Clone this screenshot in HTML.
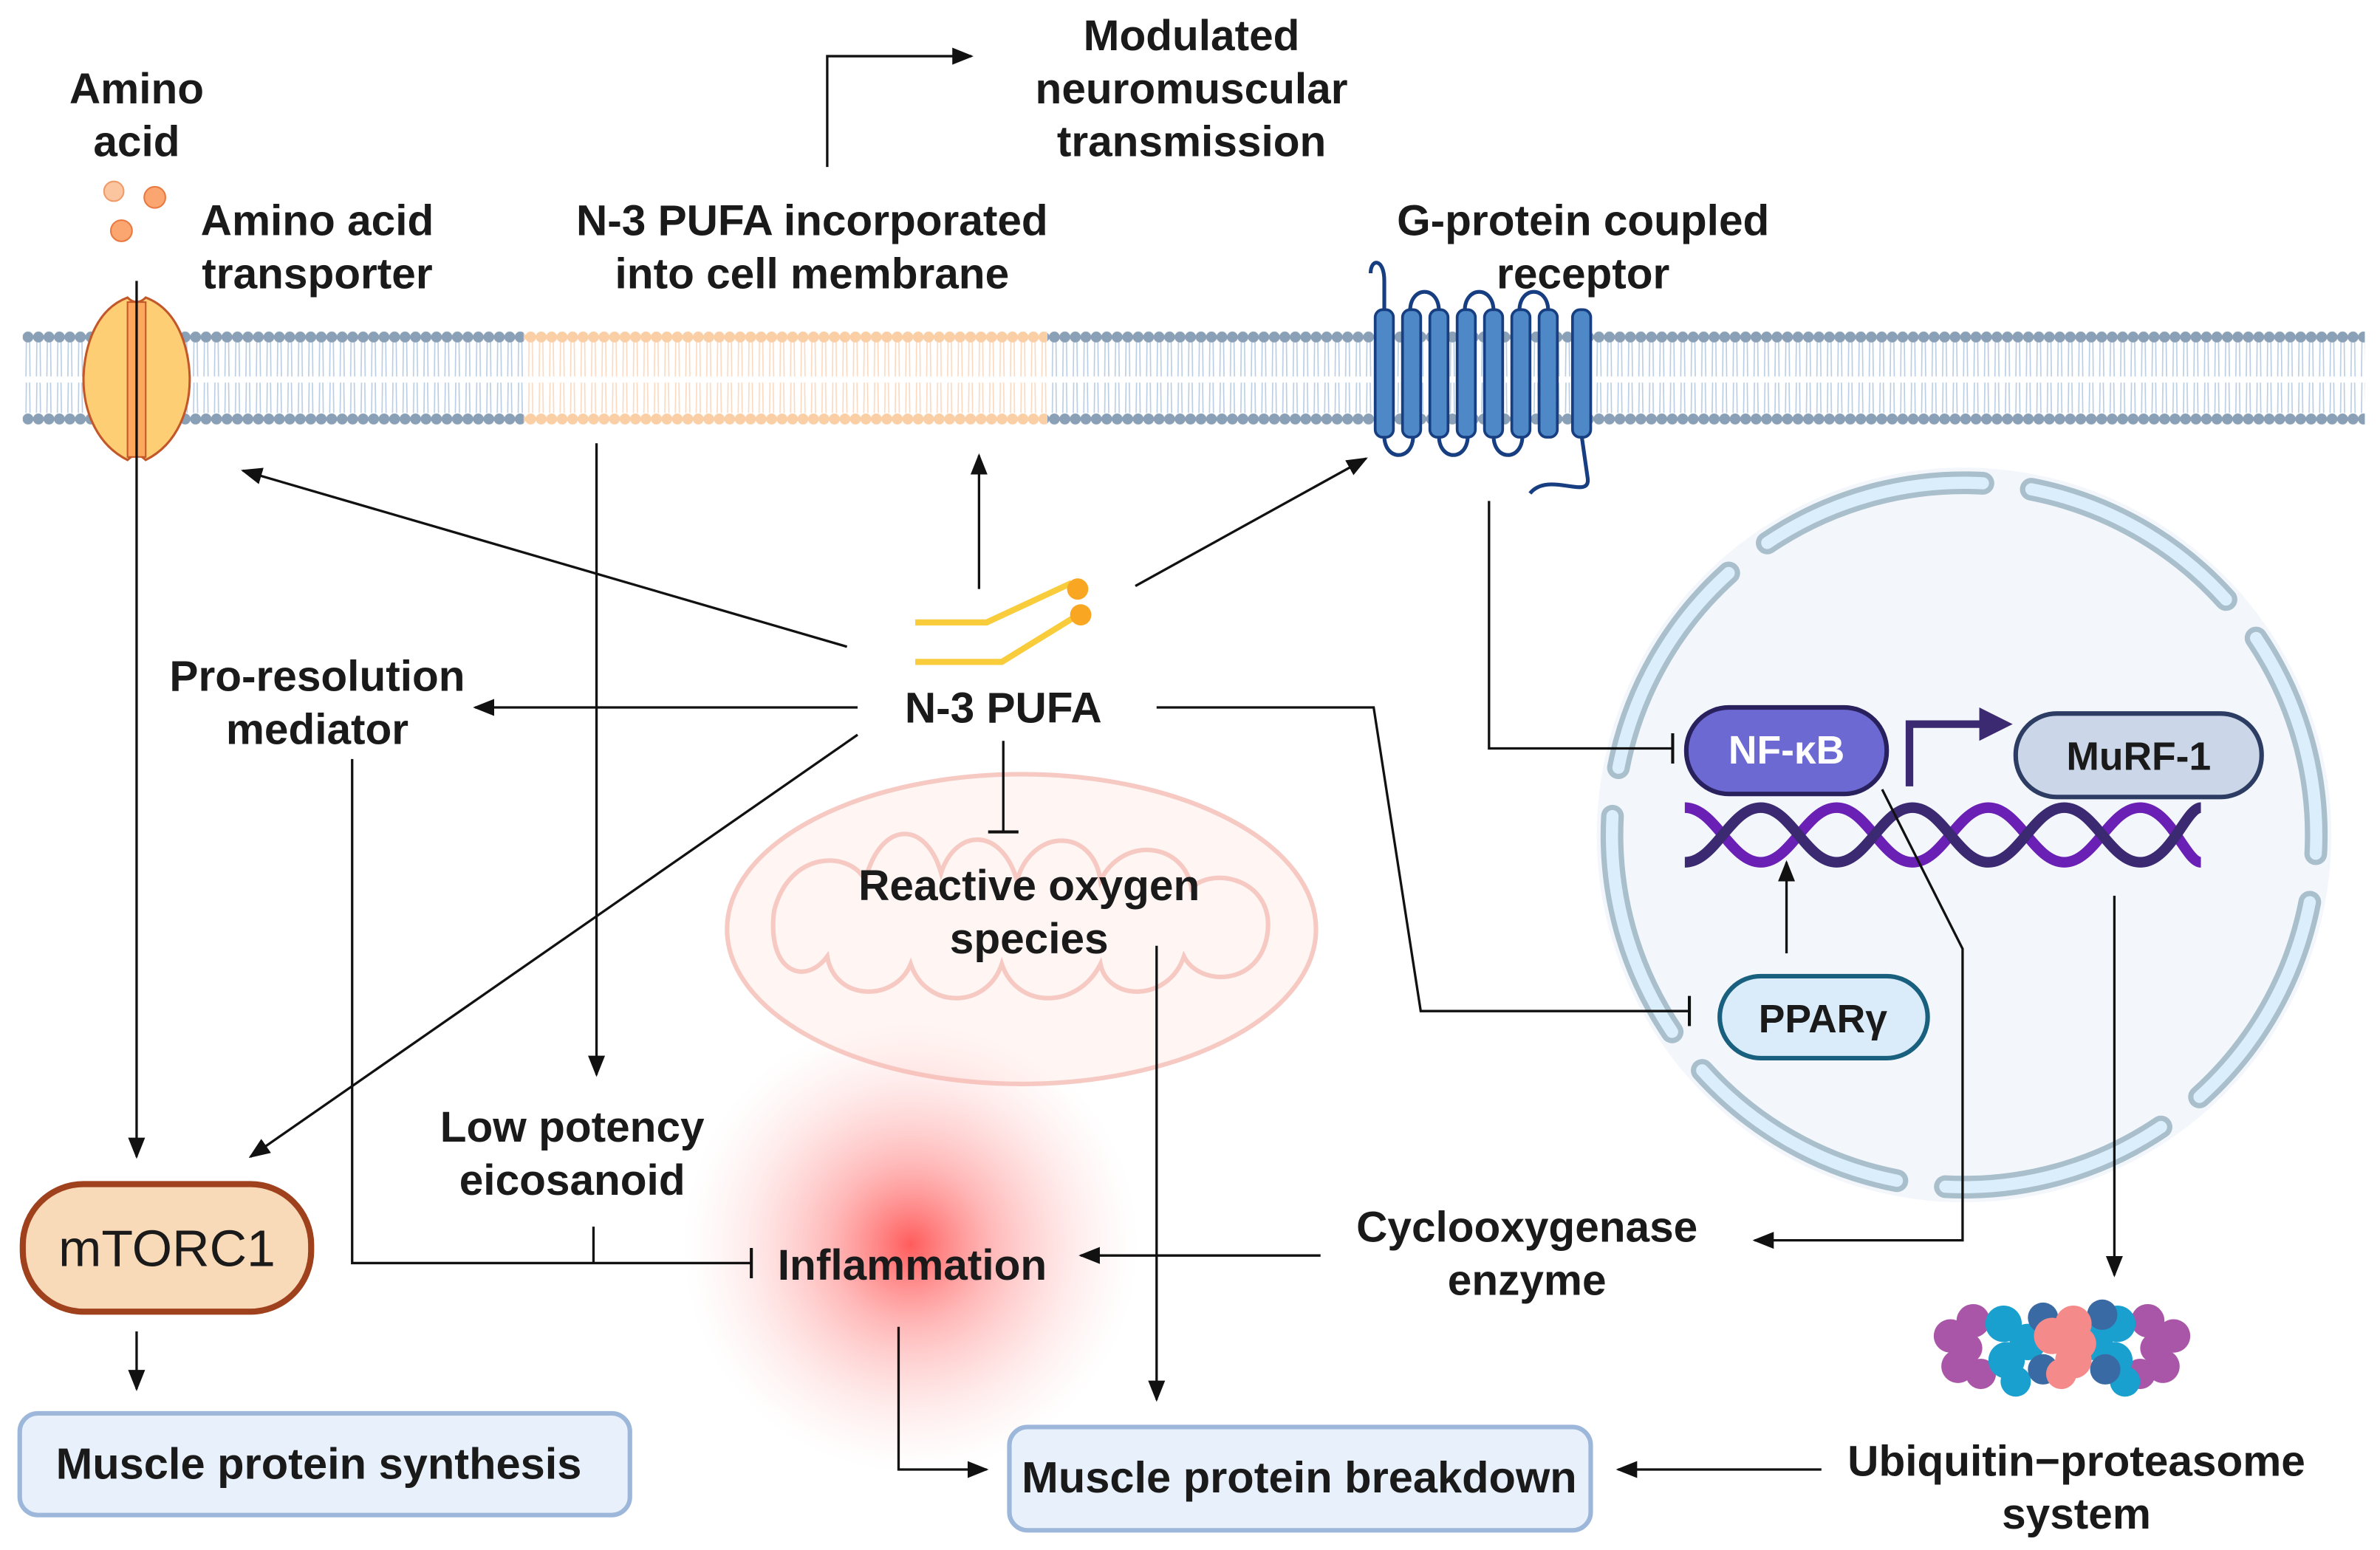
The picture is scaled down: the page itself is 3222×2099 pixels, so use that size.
<!DOCTYPE html>
<html><head><meta charset="utf-8"><style>
html,body{margin:0;padding:0;background:#fff;}
svg{display:block}
text{font-family:"Liberation Sans",sans-serif;font-weight:bold;fill:#1a1a1a;}
</style></head><body>
<svg width="3222" height="2099" viewBox="0 0 1568 1021" preserveAspectRatio="none" xmlns="http://www.w3.org/2000/svg">
<defs>
<pattern id="lipid" x="15" y="210" width="6.9" height="80" patternUnits="userSpaceOnUse">
<path d="M2.4 14 L2.1 38 M4.5 14 L4.8 38 M2.4 42 L2.1 62 M4.5 42 L4.8 62" stroke="#b9cde3" stroke-width="0.8" fill="none"/>
<circle cx="3.45" cy="12" r="3.6" fill="#8aa0b6"/>
<circle cx="3.45" cy="66" r="3.6" fill="#8aa0b6"/>
</pattern>
<pattern id="lipidO" x="15" y="210" width="6.9" height="80" patternUnits="userSpaceOnUse">
<path d="M2.4 14 L2.1 38 M4.5 14 L4.8 38 M2.4 42 L2.1 62 M4.5 42 L4.8 62" stroke="#fbd9bf" stroke-width="0.8" fill="none"/>
<circle cx="3.45" cy="12" r="3.6" fill="#fbcfa6"/>
<circle cx="3.45" cy="66" r="3.6" fill="#fbcfa6"/>
</pattern>
<radialGradient id="glow"><stop offset="0" stop-color="#ff4a4a" stop-opacity="0.9"/><stop offset="0.35" stop-color="#ff7d7d" stop-opacity="0.55"/><stop offset="1" stop-color="#ffd0d0" stop-opacity="0"/></radialGradient>
<marker id="a" viewBox="0 0 10 10" refX="9" refY="5" markerWidth="14" markerHeight="14" orient="auto" markerUnits="userSpaceOnUse"><path d="M0 1L10 5L0 9z" fill="#111"/></marker>
<marker id="t" viewBox="0 0 4 20" refX="2" refY="10" markerWidth="4" markerHeight="20" orient="auto" markerUnits="userSpaceOnUse"><path d="M2 0V20" stroke="#111" stroke-width="2"/></marker>
</defs>

<rect x="15" y="210" width="1543" height="80" fill="url(#lipid)"/>
<rect x="345" y="210" width="345" height="80" fill="#fff"/>
<rect x="345" y="210" width="345" height="80" fill="url(#lipidO)"/>

<circle cx="1294" cy="550" r="242" fill="#f3f7fc"/>
<g transform="rotate(-79 1294 550)" fill="none">
<circle cx="1294" cy="550" r="232" stroke="#a9bfcc" stroke-width="15" stroke-dasharray="150 32.2" stroke-linecap="round"/>
<circle cx="1294" cy="550" r="232" stroke="#dbeefb" stroke-width="8" stroke-dasharray="150 32.2" stroke-linecap="round"/>
</g>

<ellipse cx="673" cy="612" rx="194" ry="102" fill="#fff6f4" stroke="#f6c9c2" stroke-width="3"/>
<path d="M510 600 C520 560,560 560,570 580 C580 540,610 540,620 575 C630 545,660 545,670 580 C680 545,720 545,725 580 C740 550,780 555,785 585 C800 570,840 580,835 615 C830 650,790 650,780 630 C770 660,730 660,725 635 C710 665,670 665,660 635 C650 665,610 665,600 635 C590 660,550 660,545 630 C530 650,505 640,510 600Z" fill="none" stroke="#f6c9c2" stroke-width="3"/>

<circle cx="600" cy="820" r="150" fill="url(#glow)"/>

<path d="M84 196 C60 205,55 235,55 250 C55 268,62 292,84 303 Q90 297 96 303 C118 292,125 268,125 250 C125 235,120 205,96 196 Q90 202 84 196Z" fill="#fece74" stroke="#c2572a" stroke-width="1.5"/>
<rect x="84" y="199" width="12" height="102" fill="#fda85c" stroke="#c2572a" stroke-width="1"/>
<circle cx="75" cy="126" r="6.5" fill="#fbc5a0" stroke="#f09a6a"/>
<circle cx="102" cy="130" r="7" fill="#fba670" stroke="#e9783f"/>
<circle cx="80" cy="152" r="7" fill="#fba670" stroke="#e9783f"/>

<g stroke="#173e80" stroke-width="2.5" fill="none">
<path d="M903 180 C903 170,912 170,912 185 L912 205"/>
<path d="M929 205 C929 188,948 188,948 205"/>
<path d="M965 205 C965 188,984 188,984 205"/>
<path d="M1001 205 C1001 188,1020 188,1020 205"/>
<path d="M912 287 C912 304,931 304,931 287"/>
<path d="M948 287 C948 304,967 304,967 287"/>
<path d="M984 287 C984 304,1003 304,1003 287"/>
<path d="M1042 287 L1046 315 C1048 330,1020 310,1008 325"/>
</g>
<g fill="#4f88c6" stroke="#173e80" stroke-width="1.8">
<rect x="906" y="204" width="12" height="84" rx="5"/>
<rect x="924" y="204" width="12" height="84" rx="5"/>
<rect x="942" y="204" width="12" height="84" rx="5"/>
<rect x="960" y="204" width="12" height="84" rx="5"/>
<rect x="978" y="204" width="12" height="84" rx="5"/>
<rect x="996" y="204" width="12" height="84" rx="5"/>
<rect x="1014" y="204" width="12" height="84" rx="5"/>
<rect x="1036" y="204" width="12" height="84" rx="5"/>
</g>

<path d="M603 410 L650 410 L706 384" stroke="#f8cc3b" stroke-width="4" fill="none"/>
<path d="M603 436 L660 436 L712 404" stroke="#f8cc3b" stroke-width="4" fill="none"/>
<circle cx="710" cy="388" r="7" fill="#f9a623"/><circle cx="712" cy="405" r="7" fill="#f9a623"/>

<g fill="none" stroke-width="7">
<path d="M1110 532 C1130 532,1140 568,1160 568 S1190 532,1210 532 S1240 568,1260 568 S1290 532,1310 532 S1340 568,1360 568 S1390 532,1410 532 S1440 568,1450 568" stroke="#6a1fb5"/>
<path d="M1110 568 C1130 568,1140 532,1160 532 S1190 568,1210 568 S1240 532,1260 532 S1290 568,1310 568 S1340 532,1360 532 S1390 568,1410 568 S1440 532,1450 532" stroke="#3b2a72"/>
</g>

<g>
<g fill="#a956a8"><circle cx="1285" cy="880" r="11"/><circle cx="1290" cy="900" r="11"/><circle cx="1300" cy="870" r="11"/><circle cx="1432" cy="880" r="11"/><circle cx="1425" cy="900" r="11"/><circle cx="1415" cy="870" r="11"/><circle cx="1305" cy="905" r="10"/><circle cx="1410" cy="905" r="10"/><circle cx="1296" cy="888" r="10"/><circle cx="1420" cy="888" r="10"/></g>
<g fill="#1aa0cf"><circle cx="1320" cy="872" r="12"/><circle cx="1322" cy="896" r="12"/><circle cx="1336" cy="884" r="12"/><circle cx="1395" cy="872" r="12"/><circle cx="1393" cy="896" r="12"/><circle cx="1380" cy="884" r="12"/><circle cx="1328" cy="910" r="10"/><circle cx="1400" cy="910" r="10"/></g>
<g fill="#3a6aa3"><circle cx="1346" cy="868" r="10"/><circle cx="1346" cy="902" r="10"/><circle cx="1385" cy="866" r="10"/><circle cx="1387" cy="902" r="10"/></g>
<g fill="#f58a8a"><circle cx="1352" cy="880" r="12"/><circle cx="1366" cy="872" r="12"/><circle cx="1366" cy="896" r="12"/><circle cx="1358" cy="905" r="10"/><circle cx="1370" cy="885" r="11"/></g>
</g>

<rect x="15" y="780" width="190" height="84" rx="40" fill="#f8dab8" stroke="#a0411d" stroke-width="4"/>
<text x="110" y="834" text-anchor="middle" font-size="34" style="font-weight:normal">mTORC1</text>
<rect x="13" y="931" width="402" height="67" rx="12" fill="#e8f1fb" stroke="#9cb7da" stroke-width="3"/>
<text x="210" y="974" text-anchor="middle" font-size="29">Muscle protein synthesis</text>
<rect x="665" y="940" width="383" height="68" rx="12" fill="#e8f1fb" stroke="#9cb7da" stroke-width="3"/>
<text x="856" y="983" text-anchor="middle" font-size="29">Muscle protein breakdown</text>
<rect x="1111" y="466" width="132" height="57" rx="28" fill="#6c69d3" stroke="#28215e" stroke-width="3"/>
<text x="1177" y="503" text-anchor="middle" font-size="26" style="fill:#fff">NF-κB</text>
<rect x="1328" y="470" width="162" height="55" rx="27" fill="#cbd6e8" stroke="#2c3c63" stroke-width="3"/>
<text x="1409" y="507" text-anchor="middle" font-size="26">MuRF-1</text>
<rect x="1133" y="643" width="137" height="54" rx="27" fill="#daecf9" stroke="#19607e" stroke-width="3"/>
<text x="1201" y="680" text-anchor="middle" font-size="26">PPARγ</text>

<g font-size="28.5">
<text x="90" y="68" text-anchor="middle">Amino</text>
<text x="90" y="103" text-anchor="middle">acid</text>
<text x="209" y="155" text-anchor="middle">Amino acid</text>
<text x="209" y="190" text-anchor="middle">transporter</text>
<text x="535" y="155" text-anchor="middle">N-3 PUFA incorporated</text>
<text x="535" y="190" text-anchor="middle">into cell membrane</text>
<text x="785" y="33" text-anchor="middle">Modulated</text>
<text x="785" y="68" text-anchor="middle">neuromuscular</text>
<text x="785" y="103" text-anchor="middle">transmission</text>
<text x="1043" y="155" text-anchor="middle">G-protein coupled</text>
<text x="1043" y="190" text-anchor="middle">receptor</text>
<text x="209" y="455" text-anchor="middle">Pro-resolution</text>
<text x="209" y="490" text-anchor="middle">mediator</text>
<text x="661" y="476" text-anchor="middle">N-3 PUFA</text>
<text x="678" y="593" text-anchor="middle">Reactive oxygen</text>
<text x="678" y="628" text-anchor="middle">species</text>
<text x="377" y="752" text-anchor="middle">Low potency</text>
<text x="377" y="787" text-anchor="middle">eicosanoid</text>
<text x="601" y="843" text-anchor="middle">Inflammation</text>
<text x="1006" y="818" text-anchor="middle">Cyclooxygenase</text>
<text x="1006" y="853" text-anchor="middle">enzyme</text>
<text x="1368" y="972" text-anchor="middle">Ubiquitin−proteasome</text>
<text x="1368" y="1007" text-anchor="middle">system</text>
</g>

<g stroke="#111" stroke-width="1.6" fill="none">
<path d="M90 185 V762" marker-end="url(#a)"/>
<path d="M90 877 V915" marker-end="url(#a)"/>
<path d="M545 110 V37 H640" marker-end="url(#a)"/>
<path d="M645 388 V300" marker-end="url(#a)"/>
<path d="M748 386 L900 302" marker-end="url(#a)"/>
<path d="M558 426 L160 310" marker-end="url(#a)"/>
<path d="M565 466 H313" marker-end="url(#a)"/>
<path d="M565 484 L165 762" marker-end="url(#a)"/>
<path d="M393 292 V708" marker-end="url(#a)"/>
<path d="M661 488 V548" marker-end="url(#t)"/>
<path d="M232 500 V832 H495" marker-end="url(#t)"/>
<path d="M391 808 V832"/>
<path d="M762 466 H905 L936 666 H1113" marker-end="url(#t)"/>
<path d="M981 330 V493 H1102" marker-end="url(#t)"/>
<path d="M1177 628 V568" marker-end="url(#a)"/>
<path d="M1240 520 L1293 625 V817 H1156" marker-end="url(#a)"/>
<path d="M1393 590 V840" marker-end="url(#a)"/>
<path d="M870 827 H712" marker-end="url(#a)"/>
<path d="M762 623 V922" marker-end="url(#a)"/>
<path d="M592 874 V968 H650" marker-end="url(#a)"/>
<path d="M1200 968 H1066" marker-end="url(#a)"/>
</g>
<path d="M1258 518 V477 H1305" stroke="#3b2a72" stroke-width="5" fill="none"/>
<path d="M1304 466 L1326 477 L1304 488Z" fill="#3b2a72"/>
</svg>
</body></html>
